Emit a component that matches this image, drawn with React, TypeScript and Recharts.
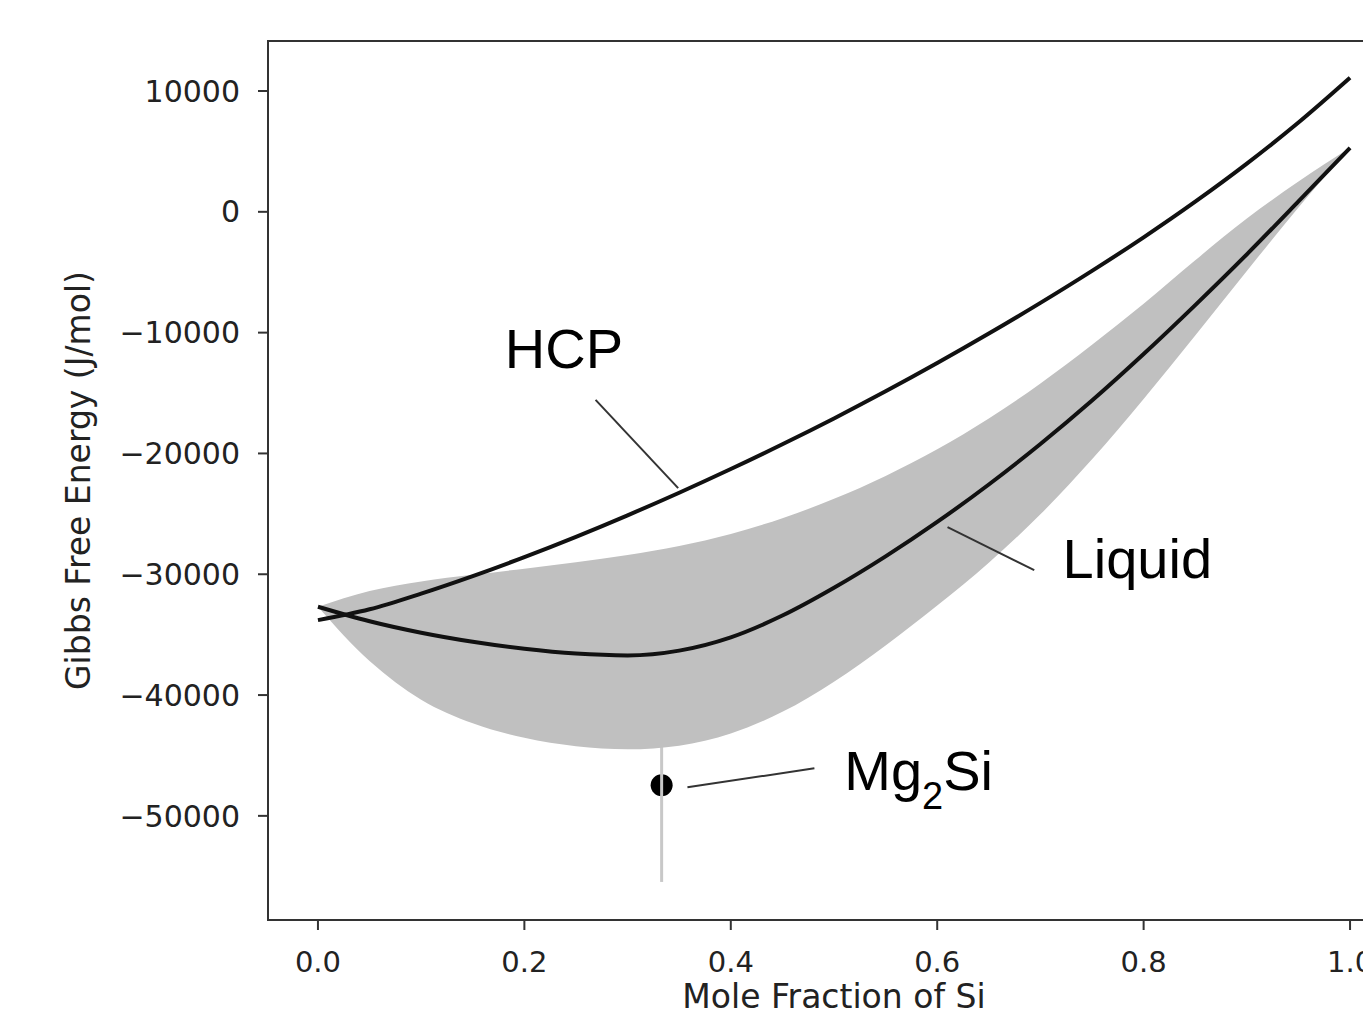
import {
  ComposedChart,
  Area,
  Line,
  Scatter,
  ErrorBar,
  XAxis,
  YAxis,
  ReferenceLine,
  ReferenceDot,
  ReferenceArea,
} from "recharts";

// mole fraction of Si
const xs = [
  0, 0.05, 0.1, 0.15, 0.2, 0.25, 0.3, 0.35, 0.4, 0.45, 0.5, 0.55, 0.6, 0.65,
  0.7, 0.75, 0.8, 0.85, 0.9, 0.95, 1.0,
];

const hcp = [
  -33800, -32900, -31600, -30150, -28580, -26900, -25120, -23250, -21290,
  -19240, -17100, -14860, -12520, -10080, -7540, -4890, -2110, 840, 3990, 7390,
  11100,
];

const liquid = [
  -32690, -33890, -34840, -35590, -36170, -36570, -36720, -36320, -35220,
  -33420, -31120, -28520, -25670, -22570, -19220, -15620, -11770, -7720, -3520,
  860, 5300,
];

// uncertainty band of the liquid curve
const bandHigh = [
  -32690, -31390, -30590, -30040, -29540, -29010, -28410, -27660, -26660,
  -25360, -23760, -21860, -19660, -17110, -14210, -11010, -7610, -4010, -560,
  2500, 5300,
];

const bandLow = [
  -32690, -37190, -40390, -42340, -43540, -44240, -44490, -44190, -43190,
  -41390, -38890, -35890, -32590, -29040, -25040, -20490, -15490, -10240, -4890,
  360, 5300,
];

const mg2si = [{ x: 0.333, g: -47470, err: 8000 }];

const xTicks = [0, 0.2, 0.4, 0.6, 0.8, 1.0];
const yTicks = [-50000, -40000, -30000, -20000, -10000, 0, 10000];

const X_DOMAIN: [number, number] = [-0.0484, 1.0484];
const Y_DOMAIN: [number, number] = [-58620, 14140];

// annotation pointers
const pointers = [
  { name: "HCP", from: [0.269, -15570], to: [0.349, -22870] },
  { name: "Liquid", from: [0.61, -26100], to: [0.694, -29660] },
  { name: "Mg2Si", from: [0.358, -47640], to: [0.481, -46060] },
];

const labelPos = [
  { name: "HCP", x: 0.181, y: -12930 },
  { name: "Liquid", x: 0.7215, y: -30320 },
  { name: "Mg2Si", x: 0.51, y: -47890 },
];

const data = xs.map((x, i) => ({
  x,
  hcp: hcp[i],
  liquid: liquid[i],
  band: [bandLow[i], bandHigh[i]],
}));

const TICK_FONT = "'DejaVu Sans', sans-serif";
const ANNOT_FONT = "'Liberation Sans', Arial, sans-serif";

function fmtY(v: number) {
  return v < 0 ? `\u2212${Math.abs(v)}` : `${v}`;
}

function annotLabel(name: string) {
  // eslint-disable-next-line @typescript-eslint/no-explicit-any
  return (props: any) => {
    const vb = props.viewBox || {};
    const x = vb.x ?? 0;
    const y = vb.y ?? 0;
    if (name === "Mg2Si") {
      return (
        <text x={x} y={y} fontFamily={ANNOT_FONT} fontSize={56} fill="#000">
          <tspan>Mg</tspan>
          <tspan fontSize={38} dy={19}>
            2
          </tspan>
          <tspan dy={-19}>Si</tspan>
        </text>
      );
    }
    return (
      <text x={x} y={y} fontFamily={ANNOT_FONT} fontSize={56} fill="#000">
        {name}
      </text>
    );
  };
}

export default function App() {
  return (
    <div
      style={{
        position: "absolute",
        left: 0,
        top: 0,
        width: 1363,
        height: 1016,
        overflow: "hidden",
        background: "#fff",
      }}
    >
      <ComposedChart
        width={1420}
        height={1020}
        data={data}
        margin={{ top: 41, right: 20, bottom: 0, left: 0 }}
      >
        <XAxis
          type="number"
          dataKey="x"
          domain={X_DOMAIN}
          ticks={xTicks}
          allowDataOverflow
          tickFormatter={(v: number) => v.toFixed(1)}
          tick={{ fontSize: 29, fill: "#222", fontFamily: TICK_FONT }}
          tickSize={10}
          tickMargin={21}
          height={100}
          axisLine={{ stroke: "#333", strokeWidth: 2 }}
          tickLine={{ stroke: "#333", strokeWidth: 2 }}
          label={(props: any) => {
            const vb = props.viewBox || {};
            return (
              <text
                x={vb.x + vb.width / 2}
                y={1008}
                textAnchor="middle"
                fontFamily={TICK_FONT}
                fontSize={33}
                fill="#222"
              >
                Mole Fraction of Si
              </text>
            );
          }}
        />
        <YAxis
          type="number"
          domain={Y_DOMAIN}
          ticks={yTicks}
          allowDataOverflow
          tickFormatter={fmtY}
          tick={{ fontSize: 30, fill: "#222", fontFamily: TICK_FONT }}
          tickSize={10}
          tickMargin={18}
          width={268}
          axisLine={{ stroke: "#333", strokeWidth: 2 }}
          tickLine={{ stroke: "#333", strokeWidth: 2 }}
          label={(props: any) => {
            const vb = props.viewBox || {};
            const cx = 90;
            const cy = vb.y + vb.height / 2;
            return (
              <text
                x={cx}
                y={cy}
                transform={`rotate(-90, ${cx}, ${cy})`}
                textAnchor="middle"
                fontFamily={TICK_FONT}
                fontSize={33}
                fill="#222"
              >
                Gibbs Free Energy (J/mol)
              </text>
            );
          }}
        />
        <Scatter
          data={mg2si}
          dataKey="g"
          isAnimationActive={false}
          zIndex={50}
          shape={(p: any) => <circle cx={p.cx} cy={p.cy} r={11} fill="#000" />}
        >
          <ErrorBar
            dataKey="err"
            direction="y"
            width={0}
            stroke="#c8c8c8"
            strokeWidth={3}
            zIndex={60}
          />
        </Scatter>
        <Area
          type="monotone"
          dataKey="band"
          stroke="none"
          fill="#c0c0c0"
          fillOpacity={1}
          isAnimationActive={false}
          activeDot={false}
          zIndex={100}
        />
        <Line
          type="monotone"
          dataKey="hcp"
          stroke="#111"
          strokeWidth={4}
          dot={false}
          activeDot={false}
          isAnimationActive={false}
        />
        <Line
          type="monotone"
          dataKey="liquid"
          stroke="#111"
          strokeWidth={4}
          dot={false}
          activeDot={false}
          isAnimationActive={false}
        />
        {pointers.map((p) => (
          <ReferenceLine
            key={p.name}
            segment={[
              { x: p.from[0], y: p.from[1] },
              { x: p.to[0], y: p.to[1] },
            ]}
            stroke="#333"
            strokeWidth={2}
          />
        ))}
        {labelPos.map((l) => (
          <ReferenceDot
            key={l.name}
            x={l.x}
            y={l.y}
            r={0}
            fill="none"
            stroke="none"
            label={annotLabel(l.name)}
          />
        ))}
        <ReferenceArea
          x1={X_DOMAIN[0]}
          x2={X_DOMAIN[1]}
          y1={Y_DOMAIN[0]}
          y2={Y_DOMAIN[1]}
          fill="none"
          fillOpacity={0}
          stroke="#333"
          strokeWidth={2}
        />
      </ComposedChart>
    </div>
  );
}
